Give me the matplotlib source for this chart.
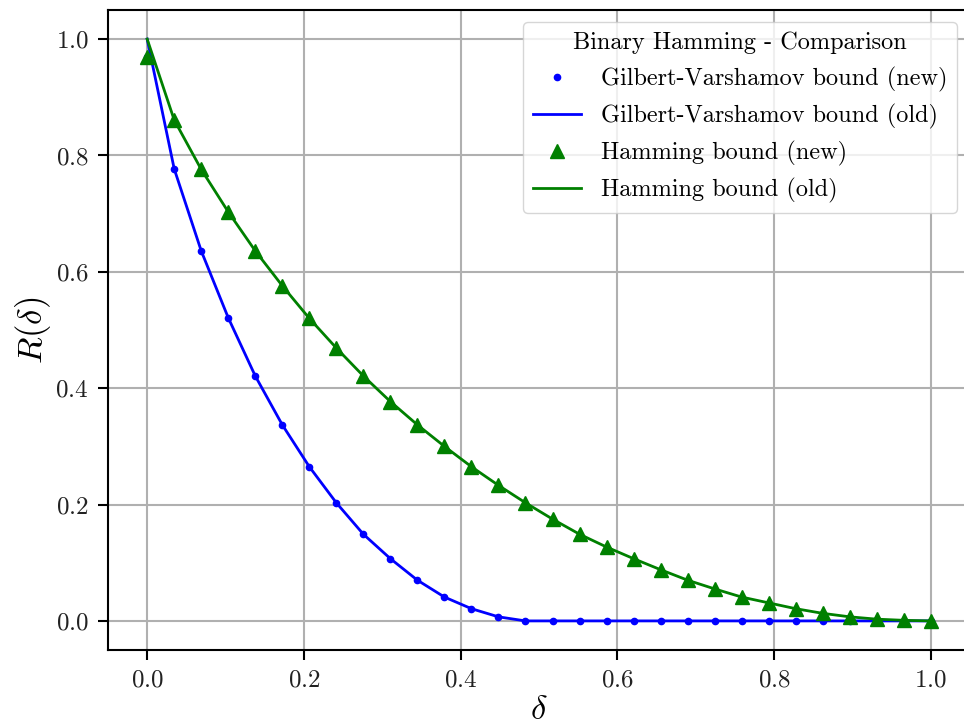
import numpy as np
import matplotlib
matplotlib.use("Agg")
import matplotlib.pyplot as plt

plt.rcParams['font.family'] = 'serif'
plt.rcParams['font.serif'] = ['cmr10']
plt.rcParams['mathtext.fontset'] = 'cm'
plt.rcParams['axes.formatter.use_mathtext'] = True

# relative distance grid, 30 points on [0, 1]
delta = np.linspace(0.0, 1.0, 30)

# rate values at each delta
gv_new = [0.97, 0.777, 0.636, 0.521, 0.421, 0.337, 0.265, 0.203, 0.149, 0.107,
          0.070, 0.041, 0.021, 0.007, 0.0, 0.0, 0.0, 0.0, 0.0, 0.0,
          0.0, 0.0, 0.0, 0.0, 0.0, 0.0, 0.0, 0.0, 0.0, 0.0]
gv_old = [1.0, 0.777, 0.636, 0.521, 0.421, 0.337, 0.265, 0.203, 0.149, 0.107,
          0.070, 0.041, 0.021, 0.007, 0.0, 0.0, 0.0, 0.0, 0.0, 0.0,
          0.0, 0.0, 0.0, 0.0, 0.0, 0.0, 0.0, 0.0, 0.0, 0.0]
ham_new = [0.969, 0.861, 0.776, 0.703, 0.636, 0.576, 0.520, 0.469, 0.421, 0.377,
           0.337, 0.300, 0.265, 0.233, 0.203, 0.175, 0.149, 0.127, 0.107, 0.088,
           0.070, 0.055, 0.041, 0.031, 0.021, 0.013, 0.007, 0.003, 0.001, 0.0]
ham_old = [1.0, 0.861, 0.776, 0.703, 0.636, 0.576, 0.520, 0.469, 0.421, 0.377,
           0.337, 0.300, 0.265, 0.233, 0.203, 0.175, 0.149, 0.127, 0.107, 0.088,
           0.070, 0.055, 0.041, 0.031, 0.021, 0.013, 0.007, 0.003, 0.001, 0.0]

fig = plt.figure(figsize=(9.64, 7.28), dpi=100)
ax = fig.add_axes([108/964, 78/728, 862/964, 640/728])

ax.plot(delta, gv_new, 'o', color='blue', markersize=4.5, label='Gilbert-Varshamov bound (new)')
ax.plot(delta, gv_old, '-', color='blue', linewidth=2, label='Gilbert-Varshamov bound (old)')
ax.plot(delta, ham_new, '^', color='green', markersize=10, label='Hamming bound (new)')
ax.plot(delta, ham_old, '-', color='green', linewidth=2, label='Hamming bound (old)')

ax.set_xlim(-0.05, 1.05)
ax.set_ylim(-0.05, 1.05)
ax.set_xticks([0.0, 0.2, 0.4, 0.6, 0.8, 1.0])
ax.set_yticks([0.0, 0.2, 0.4, 0.6, 0.8, 1.0])
ax.tick_params(labelsize=18, width=1.5, length=7, pad=7, labelcolor='#222222')
ax.grid(True, color='#b0b0b0', linewidth=1.5)
for s in ax.spines.values():
    s.set_linewidth(1.5)
ax.spines['right'].set_visible(False)

ax.set_xlabel(r'$\delta$', fontsize=25, labelpad=2)
ax.set_ylabel(r'$R(\delta)$', fontsize=25, labelpad=2)

leg = ax.legend(title='Binary Hamming - Comparison', loc='upper right',
                bbox_to_anchor=(0.985, 0.981), borderaxespad=0,
                fontsize=17.5, title_fontsize=17.5, framealpha=0.8)

fig.savefig('out.png', dpi=100)
